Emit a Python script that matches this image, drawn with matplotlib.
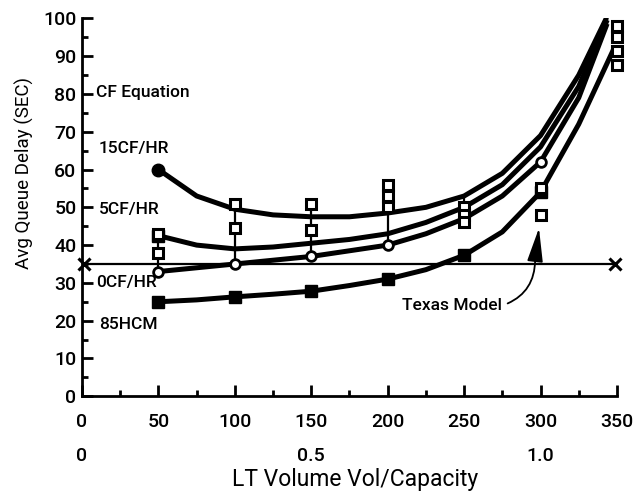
import numpy as np
import matplotlib
matplotlib.use("Agg")
import matplotlib.pyplot as plt
from matplotlib.ticker import MultipleLocator

plt.rcParams['font.family'] = ['Roboto', 'DejaVu Sans']

# curves read at every 25 veh of LT volume (last point is where they top out)
cf15_x = [50, 75, 100, 125, 150, 175, 200, 225, 250, 275, 300, 325, 343]
cf15_y = [60, 53, 49.5, 48, 47.5, 47.5, 48.5, 50, 53, 59, 69, 85, 100]

cf5_x = [50, 75, 100, 125, 150, 175, 200, 225, 250, 275, 300, 325, 343]
cf5_y = [42.5, 40, 39, 39.5, 40.5, 41.5, 43, 46, 50, 56, 66, 82, 99]

cf0_x = [50, 75, 100, 125, 150, 175, 200, 225, 250, 275, 300, 325, 343]
cf0_y = [33, 34, 35, 36, 37, 38.5, 40, 43, 47, 53, 62, 79, 98]

hcm_x = [50, 75, 100, 125, 150, 175, 200, 225, 250, 275, 300, 325, 348]
hcm_y = [25, 25.5, 26.3, 27, 27.8, 29.3, 31, 33.5, 37.3, 43.5, 54, 72, 92]

# marker positions on the curves
cf15_mx, cf15_my = [50], [60]
cf5_mx, cf5_my = [50], [42.5]
cf0_mx = [50, 100, 150, 200, 300]
cf0_my = [33, 35, 37, 40, 62]
hcm_mx = [50, 100, 150, 200, 250, 300]
hcm_my = [25, 26.3, 27.8, 31, 37.3, 54]

# Texas Model simulation runs
tx_x = [50, 50, 100, 100, 150, 150, 200, 200, 200, 250, 250, 250, 300, 300, 350, 350, 350, 350]
tx_y = [43, 38, 51, 44.5, 51, 44, 56, 53, 50, 50, 48, 46, 55, 48, 98, 95, 91.5, 87.6]
# range bars joining the runs at each volume
bar_x = [50, 100, 150, 200, 250]
bar_lo = [33, 35, 37, 40, 46]
bar_hi = [43, 51, 51, 56, 53]

# capacity line
cap_x = [1, 349]
cap_y = [35, 35]

labels = ["CF Equation", "15CF/HR", "5CF/HR", "0CF/HR", "85HCM"]
label_y = [80.5, 65.5, 49.5, 30, 19]
label_x = [9, 11, 11, 9, 11]

fig = plt.figure(figsize=(6.36, 4.99), dpi=100)
ax = fig.add_axes([0.129, 0.206, 0.841, 0.757])

lw = 3.6
ax.plot(cf15_x, cf15_y, 'k-', lw=lw, solid_capstyle='round')
ax.plot(cf5_x, cf5_y, 'k-', lw=lw)
ax.plot(cf0_x, cf0_y, 'k-', lw=lw)
ax.plot(hcm_x, hcm_y, 'k-', lw=lw)

ax.vlines(bar_x, bar_lo, bar_hi, colors='k', lw=1.6)
ax.plot(cap_x, cap_y, 'k-', lw=1.6)
ax.plot(cap_x, cap_y, 'kx', ms=9, mew=2.2, clip_on=False)

ax.plot(cf15_mx, cf15_my, 'ko', ms=9)
ax.plot(cf5_mx, cf5_my, 'ks', ms=8)
ax.plot(cf0_mx, cf0_my, 'o', ms=7, mfc='white', mec='k', mew=2)
ax.plot(hcm_mx, hcm_my, 'ks', ms=8)
ax.plot(tx_x, tx_y, 's', ms=7, mfc='white', mec='k', mew=2.2, clip_on=False)

for t, x, y in zip(labels, label_x, label_y):
    ax.text(x, y, t, fontsize=12.5, fontweight='medium', va='center', ha='left')

# curved leader from the label, then a long narrow arrowhead up to the run
ax.annotate("Texas Model", xy=(296.5, 36), xytext=(275, 24),
            fontsize=12.5, fontweight='medium', ha='right', va='center',
            arrowprops=dict(arrowstyle='-', color='k', lw=1.3,
                            connectionstyle='arc3,rad=0.35',
                            relpos=(1.0, 0.5), shrinkA=2, shrinkB=0))
ax.annotate("", xy=(299, 44.5), xytext=(296.5, 36),
            arrowprops=dict(arrowstyle='-|>,head_length=1.5,head_width=0.35',
                            color='k', lw=1.3, mutation_scale=14,
                            shrinkA=0, shrinkB=0))

ax.set_xlim(0, 350)
ax.set_ylim(0, 100)
ax.spines['top'].set_visible(False)
ax.spines['right'].set_visible(False)
ax.spines['left'].set_linewidth(2)
ax.spines['bottom'].set_linewidth(2)

ax.xaxis.set_major_locator(MultipleLocator(50))
ax.xaxis.set_minor_locator(MultipleLocator(25))
ax.yaxis.set_major_locator(MultipleLocator(10))
ax.yaxis.set_minor_locator(MultipleLocator(5))
ax.tick_params(which='major', direction='in', length=8, width=2, labelsize=14)
ax.tick_params(which='minor', direction='in', length=4, width=2)
ax.tick_params(axis='x', pad=12)
ax.tick_params(axis='y', pad=4)
for lab in ax.get_xticklabels() + ax.get_yticklabels():
    lab.set_fontweight('medium')

# second row of x labels: volume/capacity ratio
vc_pos = [0, 150, 300]
vc_lab = ["0", "0.5", "1.0"]
for p, s in zip(vc_pos, vc_lab):
    ax.text(p, -0.158, s, transform=ax.get_xaxis_transform(), ha='center',
            va='center', fontsize=14, fontweight='medium')

ax.set_xlabel("LT Volume Vol/Capacity", fontsize=16.5)
ax.xaxis.set_label_coords(0.51, -0.19)
ax.set_ylabel("Avg Queue Delay (SEC)", fontsize=13.5)
ax.yaxis.set_label_coords(-0.09, 0.59)

fig.savefig("out.png", dpi=100)
